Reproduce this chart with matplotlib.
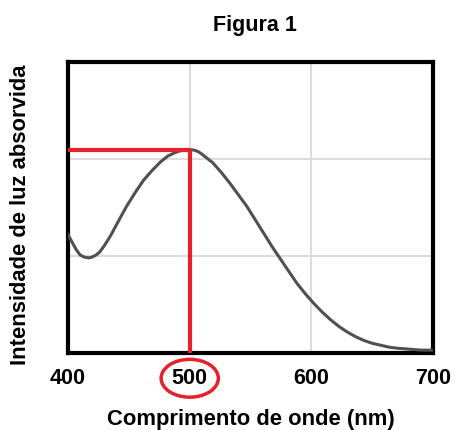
import matplotlib.pyplot as plt
from matplotlib.patches import Ellipse

plt.rcParams['font.family'] = ['Liberation Sans', 'DejaVu Sans']

# curve
wavelength = [400, 403, 407, 410, 413, 417, 420, 423, 426, 430, 435, 441, 448,
              455, 462, 469, 476, 482, 487, 491, 495, 498, 501, 504, 507, 510,
              513, 519, 526, 533, 540, 547, 554, 561, 568, 575, 582, 588, 595,
              602, 609, 616, 623, 629, 636, 643, 650, 657, 664, 670, 680, 690,
              700]
intensity = [1.22, 1.15, 1.06, 1.01, 0.99, 0.98, 0.99, 1.01, 1.04, 1.11, 1.21,
             1.35, 1.51, 1.65, 1.78, 1.88, 1.97, 2.03, 2.06, 2.08, 2.09, 2.095,
             2.095, 2.09, 2.075, 2.05, 2.02, 1.96, 1.86, 1.75, 1.63, 1.51, 1.37,
             1.23, 1.09, 0.96, 0.83, 0.72, 0.61, 0.51, 0.42, 0.34, 0.27, 0.22,
             0.17, 0.13, 0.10, 0.08, 0.06, 0.05, 0.04, 0.03, 0.03]
xticks = [400, 500, 600, 700]
peak_nm = 500
peak_value = 2.09

red = '#e8202a'

fig = plt.figure(figsize=(4.55, 4.30), dpi=100)
ax = fig.add_axes([0.1495, 0.179, 0.8025, 0.677])

ax.plot(wavelength, intensity, color='#505050', lw=2.2, zorder=3,
        solid_joinstyle='round')

# red marker lines for the peak
ax.plot([400, peak_nm], [peak_value, peak_value], color=red, lw=3, zorder=4,
        solid_capstyle='butt')
ax.plot([peak_nm, peak_nm], [peak_value, 0], color=red, lw=3, zorder=4,
        solid_capstyle='butt')

ax.set_xlim(400, 700)
ax.set_ylim(0, 3)
ax.set_xticks(xticks)
ax.set_yticks([1, 2])
ax.set_yticklabels([])
ax.grid(True, color='#dddddd', lw=1.5)
ax.tick_params(length=0, pad=11, labelsize=15.5)
for lab in ax.get_xticklabels():
    lab.set_fontweight('bold')
for sp in ax.spines.values():
    sp.set_linewidth(3)
    sp.set_color('black')

# red circle round the 500 label
ax.add_patch(Ellipse((peak_nm, -0.26), 47, 0.39, transform=ax.transData,
                     fill=False, edgecolor=red, lw=2.5, clip_on=False))

ax.set_xlabel('Comprimento de onde (nm)', fontsize=15.8, fontweight='bold',
              labelpad=14)
fig.text(0.045, 0.5, 'Intensidade de luz absorvida', rotation=90,
         ha='center', va='center', fontsize=15.8, fontweight='bold',
         family=['Liberation Sans Narrow', 'Liberation Sans'])
fig.suptitle('Figura 1', x=0.56, y=0.965, fontsize=15.5, fontweight='bold')

fig.savefig('out.png', dpi=100)
